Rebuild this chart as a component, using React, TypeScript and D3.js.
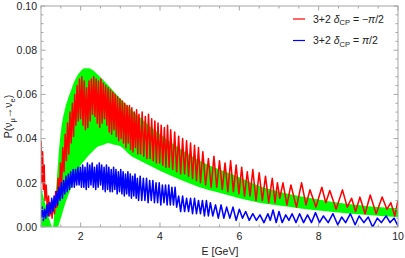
import React from 'react';
import * as d3 from 'd3';

// green band (range of the 3-flavour probability), [E, P]
const bandUpper: [number, number][] = [
  [1.0, 0.018], [1.1, 0.011], [1.2, 0.004], [1.3, 0.0], [1.35, 0.01], [1.4, 0.022],
  [1.45, 0.034], [1.5, 0.043], [1.6, 0.053], [1.7, 0.059], [1.8, 0.064], [1.9, 0.068],
  [2.0, 0.0705], [2.1, 0.0718], [2.2, 0.0718], [2.3, 0.071], [2.4, 0.0695], [2.6, 0.066],
  [2.8, 0.062], [3.0, 0.058], [3.25, 0.0535], [3.5, 0.0495], [3.75, 0.0455], [4.0, 0.042],
  [4.5, 0.0355], [5.0, 0.030], [5.5, 0.026], [6.0, 0.0225], [6.5, 0.0185], [7.0, 0.016],
  [7.5, 0.014], [8.0, 0.0125], [8.5, 0.011], [9.0, 0.010], [9.5, 0.009], [10.0, 0.0085],
];
const bandLower: [number, number][] = [
  [1.0, 0.0], [1.2, 0.0], [1.43, 0.0], [1.5, 0.004], [1.6, 0.010], [1.76, 0.018],
  [1.9, 0.024], [2.0, 0.028], [2.18, 0.032], [2.4, 0.036], [2.69, 0.038], [3.0, 0.0365],
  [3.25, 0.0325], [3.5, 0.030], [4.0, 0.0255], [4.5, 0.0215], [5.0, 0.018], [5.5, 0.0155],
  [6.0, 0.013], [6.5, 0.011], [7.0, 0.0097], [7.5, 0.0085], [8.0, 0.0075], [8.5, 0.0066],
  [9.0, 0.0058], [9.5, 0.0051], [10.0, 0.0045],
];

// 3+2, delta_CP = -pi/2 : peaks and troughs
const redPts: [number, number][] = [
  [1.0, .039], [1.02, .020], [1.04, .034], [1.06, .017], [1.08, .028], [1.1, .012],
  [1.13, .019], [1.16, .008], [1.19, .014], [1.22, .005], [1.25, .011], [1.28, .004],
  [1.31, .012], [1.34, .006], [1.37, .016], [1.4, .009], [1.43, .022], [1.46, .013],
  [1.49, .029], [1.52, .019], [1.55, .036], [1.58, .025], [1.61, .042], [1.64, .030],
  [1.67, .047], [1.7, .033], [1.73, .052], [1.76, .038], [1.79, .056], [1.82, .041],
  [1.85, .060], [1.88, .046], [1.91, .064], [1.94, .048], [1.97, .067], [2.0, .049],
  [2.03, .068], [2.06, .046], [2.09, .066], [2.12, .044], [2.15, .063], [2.18, .045],
  [2.21, .066], [2.24, .048], [2.27, .067], [2.3, .051], [2.33, .068], [2.36, .050],
  [2.39, .067], [2.42, .047], [2.45, .066], [2.48, .045], [2.51, .067], [2.54, .047],
  [2.57, .065], [2.6, .049], [2.63, .064], [2.66, .046], [2.69, .063], [2.72, .043],
  [2.75, .062], [2.78, .042], [2.81, .061], [2.84, .044], [2.87, .060], [2.9, .041],
  [2.93, .059], [2.96, .039], [2.99, .058], [3.02, .040], [3.05, .057], [3.08, .038],
  [3.11, .056], [3.14, .036], [3.17, .055], [3.2, .038], [3.23, .055], [3.26, .035],
  [3.29, .054], [3.32, .034], [3.35, .052], [3.38, .036], [3.41, .053], [3.44, .033],
  [3.47, .051], [3.51, .033], [3.55, .052], [3.59, .032], [3.63, .050], [3.67, .031],
  [3.71, .051], [3.75, .031], [3.79, .049], [3.83, .030], [3.87, .048], [3.91, .029],
  [3.95, .047], [3.99, .029], [4.03, .046], [4.07, .028], [4.11, .045], [4.15, .027],
  [4.19, .046], [4.23, .027], [4.27, .044], [4.32, .026], [4.37, .043], [4.42, .025],
  [4.47, .041], [4.52, .024], [4.57, .040], [4.62, .024], [4.67, .039], [4.72, .023],
  [4.77, .038], [4.82, .022], [4.87, .037], [4.92, .021], [4.97, .036], [5.02, .020],
  [5.08, .034], [5.15, .019], [5.22, .031], [5.29, .018], [5.36, .032], [5.43, .018],
  [5.5, .030], [5.57, .017], [5.64, .029], [5.71, .016], [5.78, .030], [5.85, .016],
  [5.92, .028], [5.99, .015], [6.06, .027], [6.13, .014], [6.2, .025], [6.27, .014],
  [6.34, .026], [6.42, .012], [6.5, .0245], [6.58, .012], [6.66, .023], [6.74, .011],
  [6.83, .022], [6.9, .011], [6.96, .020], [7.02, .013], [7.1, .020], [7.2, .010],
  [7.3, .019], [7.44, .009], [7.57, .020], [7.68, .010], [7.78, .0168], [7.93, .009],
  [8.08, .018], [8.18, .011], [8.28, .0165], [8.44, .008], [8.6, .0168], [8.72, .009],
  [8.83, .013], [8.93, .007], [9.04, .0135], [9.17, .006], [9.3, .0145], [9.45, .006],
  [9.6, .0136], [9.72, .008], [9.82, .011], [9.92, .005], [10.0, .012],
];

// 3+2, delta_CP = +pi/2
const bluePts: [number, number][] = [
  [1.0, .004], [1.03, .009], [1.06, .003], [1.09, .008], [1.12, .004], [1.15, .010],
  [1.18, .005], [1.21, .011], [1.24, .006], [1.27, .013], [1.3, .007], [1.33, .014],
  [1.36, .009], [1.39, .016], [1.42, .010], [1.45, .018], [1.48, .012], [1.51, .020],
  [1.54, .013], [1.57, .021], [1.6, .015], [1.63, .023], [1.66, .016], [1.69, .024],
  [1.72, .017], [1.75, .025], [1.78, .018], [1.81, .026], [1.84, .018], [1.87, .026],
  [1.9, .019], [1.93, .027], [1.96, .019], [1.99, .027], [2.02, .018], [2.05, .028],
  [2.08, .018], [2.11, .027], [2.14, .017], [2.17, .029], [2.2, .018], [2.23, .028],
  [2.26, .019], [2.29, .029], [2.32, .018], [2.35, .027], [2.38, .017], [2.41, .028],
  [2.44, .018], [2.47, .029], [2.5, .019], [2.53, .028], [2.56, .017], [2.59, .027],
  [2.62, .016], [2.65, .028], [2.68, .017], [2.71, .027], [2.74, .016], [2.77, .026],
  [2.8, .016], [2.83, .027], [2.86, .017], [2.89, .026], [2.92, .015], [2.95, .025],
  [2.98, .016], [3.01, .026], [3.04, .015], [3.07, .025], [3.1, .014], [3.13, .024],
  [3.16, .015], [3.19, .025], [3.22, .014], [3.25, .024], [3.28, .013], [3.31, .023],
  [3.34, .014], [3.37, .024], [3.4, .013], [3.43, .022], [3.46, .012], [3.5, .023],
  [3.54, .012], [3.58, .022], [3.62, .012], [3.66, .022], [3.7, .011], [3.74, .021],
  [3.78, .012], [3.82, .021], [3.86, .011], [3.9, .020], [3.94, .011], [3.98, .020],
  [4.02, .010], [4.06, .019], [4.1, .011], [4.14, .019], [4.18, .010], [4.22, .019],
  [4.26, .010], [4.3, .018], [4.34, .010], [4.38, .018], [4.42, .009], [4.47, .014],
  [4.52, .007], [4.57, .014], [4.62, .007], [4.67, .013], [4.72, .007], [4.77, .013],
  [4.82, .006], [4.87, .013], [4.92, .006], [4.97, .012], [5.02, .006], [5.07, .012],
  [5.12, .005], [5.17, .012], [5.22, .005], [5.27, .011], [5.33, .005], [5.4, .010],
  [5.47, .004], [5.54, .010], [5.61, .004], [5.68, .009], [5.76, .004], [5.84, .009],
  [5.92, .003], [6.0, .008], [6.08, .004], [6.16, .007], [6.25, .003], [6.34, .006],
  [6.43, .003], [6.52, .0055], [6.62, .002], [6.72, .006], [6.78, .003], [6.85, .0077],
  [6.93, .002], [7.0, .007], [7.08, .002], [7.17, .0055], [7.25, .003], [7.33, .006],
  [7.43, .002], [7.52, .006], [7.62, .002], [7.72, .0055], [7.82, .002], [7.92, .0065],
  [8.02, .002], [8.12, .005], [8.24, .002], [8.36, .006], [8.48, .001], [8.58, .0045],
  [8.68, .002], [8.8, .006], [8.92, .001], [9.02, .005], [9.14, .002], [9.25, .0045],
  [9.36, .0], [9.48, .004], [9.58, .002], [9.7, .005], [9.8, .002], [9.9, .004],
  [10.0, .0005],
];

const xMajor = [2, 4, 6, 8, 10];
const yMajor = [0, 0.02, 0.04, 0.06, 0.08, 0.1];

const W = 405;
const H = 258;
const left = 41;
const right = 398;
const top = 6;
const bottom = 227;
const frameColor = '#a6a6a6';
const font = '"Liberation Sans", Arial, sans-serif';

export default function App() {
  const x = d3.scaleLinear().domain([1, 10]).range([left, right]);
  const y = d3.scaleLinear().domain([0, 0.1]).range([bottom, top]);

  // upper and lower edge share the same E grid for the area
  const bandE = Array.from(new Set([...bandUpper.map((d) => d[0]), ...bandLower.map((d) => d[0])])).sort((a, b) => a - b);
  const upAt = d3.scaleLinear().domain(bandUpper.map((d) => d[0])).range(bandUpper.map((d) => d[1]));
  const loAt = d3.scaleLinear().domain(bandLower.map((d) => d[0])).range(bandLower.map((d) => d[1]));
  const band = d3
    .area<number>()
    .x((e) => x(e))
    .y0((e) => y(loAt(e)))
    .y1((e) => y(upAt(e)))
    .curve(d3.curveMonotoneX)(bandE);

  const line = d3
    .line<[number, number]>()
    .x((d) => x(d[0]))
    .y((d) => y(d[1]));

  const xMinor = d3.range(1, 10.01, 0.5).filter((v) => !xMajor.includes(v));
  const yMinor = d3.range(0, 0.1001, 0.004).filter((v) => !yMajor.some((m) => Math.abs(m - v) < 1e-6));

  return (
    <svg width={W} height={H} style={{ position: 'absolute', left: 0, top: 0, background: '#fff' }} fontFamily={font}>
      <defs>
        <clipPath id="plot">
          <rect x={left} y={top} width={right - left} height={bottom - top} />
        </clipPath>
      </defs>
      <g clipPath="url(#plot)">
        <path d={band ?? ''} fill="#00ff00" />
        <path d={line(redPts) ?? ''} fill="none" stroke="#ff0000" strokeWidth={1.55} strokeLinejoin="round" />
        <path d={line(bluePts) ?? ''} fill="none" stroke="#0000ff" strokeWidth={1.55} strokeLinejoin="round" />
      </g>

      <rect x={left} y={top} width={right - left} height={bottom - top} fill="none" stroke={frameColor} strokeWidth={1} />

      {xMajor.map((v) => (
        <g key={'xm' + v}>
          <line x1={x(v)} x2={x(v)} y1={bottom} y2={bottom - 4.5} stroke={frameColor} />
          <line x1={x(v)} x2={x(v)} y1={top} y2={top + 4.5} stroke={frameColor} />
          <text x={x(v)} y={240} fontSize={10.5} textAnchor="middle" fill="#222">{v}</text>
        </g>
      ))}
      {xMinor.map((v) => (
        <g key={'xn' + v}>
          <line x1={x(v)} x2={x(v)} y1={bottom} y2={bottom - 2.5} stroke={frameColor} />
          <line x1={x(v)} x2={x(v)} y1={top} y2={top + 2.5} stroke={frameColor} />
        </g>
      ))}
      {yMajor.map((v) => (
        <g key={'ym' + v}>
          <line x1={left} x2={left + 4.5} y1={y(v)} y2={y(v)} stroke={frameColor} />
          <line x1={right} x2={right - 4.5} y1={y(v)} y2={y(v)} stroke={frameColor} />
          <text x={37} y={y(v) + 3.7} fontSize={10.5} textAnchor="end" fill="#222">{v.toFixed(2)}</text>
        </g>
      ))}
      {yMinor.map((v) => (
        <g key={'yn' + v}>
          <line x1={left} x2={left + 2.5} y1={y(v)} y2={y(v)} stroke={frameColor} />
          <line x1={right} x2={right - 2.5} y1={y(v)} y2={y(v)} stroke={frameColor} />
        </g>
      ))}

      <text x={220} y={255} fontSize={10.5} textAnchor="middle" fill="#222">E [GeV]</text>
      <text transform={`translate(12, ${(top + bottom) / 2}) rotate(-90)`} fontSize={10.5} textAnchor="middle" fill="#222">
        P(ν
        <tspan fontSize={7.5} dy={3}>μ</tspan>
        <tspan dy={-3}>→ν</tspan>
        <tspan fontSize={7.5} dy={3}>e</tspan>
        <tspan dy={-3}>)</tspan>
      </text>

      {[
        { color: '#ff0000', sign: '−', ly: 19 },
        { color: '#0000ff', sign: '', ly: 40.5 },
      ].map((d) => (
        <g key={d.color}>
          <line x1={293} x2={305} y1={d.ly} y2={d.ly} stroke={d.color} strokeWidth={1.2} />
          <text x={313} y={d.ly + 3.7} fontSize={10.5} fill="#222">
            3+2 <tspan fontStyle="italic">δ</tspan>
            <tspan fontSize={7.5} dy={2.5}>CP</tspan>
            <tspan dy={-2.5}> = {d.sign}</tspan>
            <tspan fontStyle="italic">π</tspan>/2
          </text>
        </g>
      ))}
    </svg>
  );
}
